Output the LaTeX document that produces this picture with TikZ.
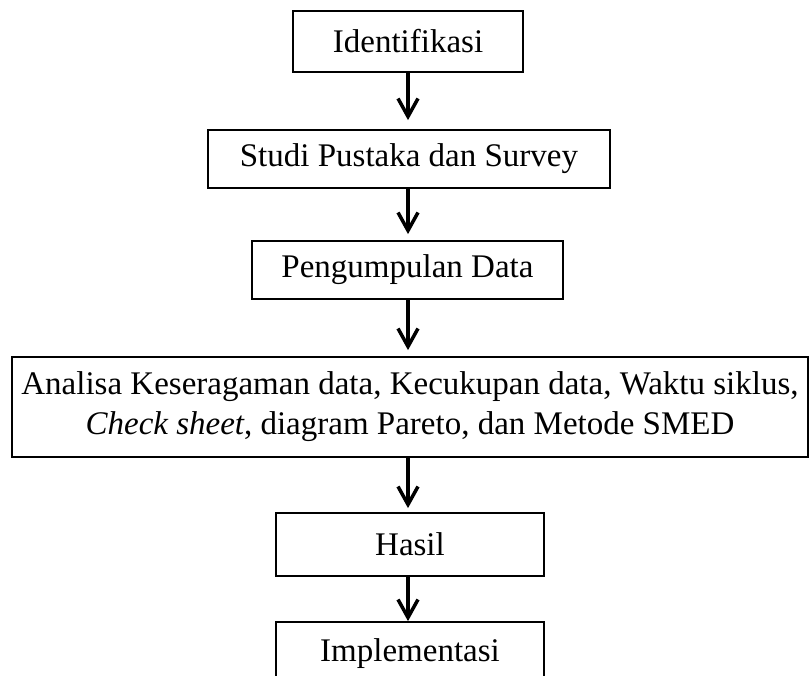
\documentclass[tikz,border=0pt]{standalone}
\usepackage{fontspec}
\setmainfont{Liberation Serif}
\usetikzlibrary{arrows.meta}
\begin{document}
\begin{tikzpicture}[x=1pt,y=-1pt,
  box/.style={draw, line width=1.8pt, rectangle, inner sep=0pt, align=center,
              font=\fontsize{33}{40}\selectfont},
  flow/.style={line width=3.5pt, -{Straight Barb[length=18pt,width=20pt]}, shorten >=6pt}]
\useasboundingbox (0,0) rectangle (810,675);
\clip (0,0) rectangle (810,675);

\node[box, minimum width=230pt, minimum height=61pt] (b1) at (408,41.5) {Identifikasi};
\node[box, minimum width=402pt, minimum height=58pt] (b2) at (409,159) {Studi Pustaka dan Survey};
\node[box, minimum width=311pt, minimum height=58pt] (b3) at (407.5,270) {Pengumpulan Data};
\node[box, minimum width=796pt, minimum height=100pt] (b4) at (410,407)
  {Analisa Keseragaman data, Kecukupan data, Waktu siklus,\\
   \textit{Check sheet}, diagram Pareto, dan Metode SMED};
\node[box, minimum width=268pt, minimum height=63pt] (b5) at (410,544.5) {Hasil};
\node[box, minimum width=268pt, minimum height=63pt] (b6) at (410,653.5) {Implementasi};

\draw[flow, shorten >=9pt] (b1.south) -- (b1.south |- b2.north);
\draw[flow] (b1.south |- b2.south) -- (b1.south |- b3.north);
\draw[flow] (b1.south |- b3.south) -- (b1.south |- b4.north);
\draw[flow, shorten >=4pt] (b1.south |- b4.south) -- (b1.south |- b5.north);
\draw[flow, shorten >=0pt] (b1.south |- b5.south) -- (b1.south |- b6.north);
\end{tikzpicture}
\end{document}
